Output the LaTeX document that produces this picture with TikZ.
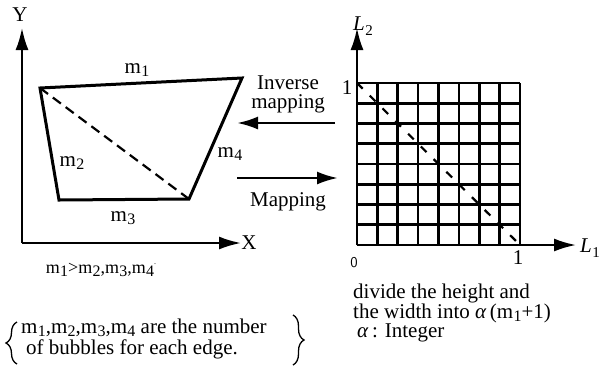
\documentclass[tikz,border=0pt]{standalone}
\usepackage{fontspec}
\setmainfont{Liberation Serif}
\usetikzlibrary{positioning,arrows.meta,decorations.pathreplacing}

\newcommand{\msb}[1]{m\kern0.3pt\raisebox{-0.35ex}[\height][0pt]{\fontsize{16}{16}\selectfont #1}}
\newcommand{\Lsb}[1]{\textit{L}\kern0.5pt\raisebox{-0.45ex}{\fontsize{15}{15}\selectfont #1}}

\begin{document}
\begin{tikzpicture}[
      x=1pt, y=-1pt,
      lbl/.style = {font=\fontsize{21}{19}\selectfont, inner sep=0pt},
      axis/.style = {line width=2.2pt, -{Latex[length=22pt,width=13pt]}},
      maparr/.style = {line width=2.6pt, -{Latex[length=21pt,width=13pt]}},
      edge/.style = {line width=3pt, line join=miter},
      gridl/.style = {line width=2.6pt},
      curly/.style = {line width=1.3pt, decorate, decoration={brace, amplitude=11pt}},
    ]
    \useasboundingbox (0,0) rectangle (602,368);

    % left: the quadrilateral in the X-Y plane
    \coordinate (o1) at (22,243);
    \coordinate (ytip) at (22,28);
    \coordinate (xtip) at (241,243);
    \draw[axis] (o1) -- (ytip);
    \draw[axis] (o1) -- (xtip);
    \node[lbl] (ylab) at (20,15) {Y};
    \node[lbl] (xlab) at (249,243) {X};

    \coordinate (q1) at (40,88);
    \coordinate (q2) at (242,78);
    \coordinate (q3) at (189,199);
    \coordinate (q4) at (59,200);
    \draw[edge] (q1) -- (q2) -- (q3) -- (q4) -- cycle;
    \draw[line width=2.2pt, dash pattern=on 10pt off 6pt] (q1) -- (q3);
    \node[lbl] (m1) at (137,68) {\msb{1}};
    \node[lbl] (m2) at (72,161) {\msb{2}};
    \node[lbl] (m3) at (123,216) {\msb{3}};
    \node[lbl] (m4) at (230,152) {\msb{4}};

    % mapping arrows
    \coordinate (inv-s) at (335,123);
    \coordinate (inv-e) at (237,123);
    \coordinate (map-s) at (237,178);
    \coordinate (map-e) at (338,178);
    \draw[maparr] (inv-s) -- (inv-e);
    \draw[maparr] (map-s) -- (map-e);
    \node[lbl, align=center] (invlab) at (288,94) {Inverse\\mapping};
    \node[lbl] (maplab) at (288,202) {Mapping};

    % right: the unit square in the L1-L2 plane
    \coordinate (o2) at (357,245);
    \coordinate (c2) at (520,83);
    \coordinate (l2tip) at (357,28);
    \coordinate (l1tip) at (576,245);
    \foreach \i in {0,...,8} {
      \draw[gridl] ({357+\i*163/8},245) -- ({357+\i*163/8},83);
      \draw[gridl] (357,{245-\i*162/8}) -- (520,{245-\i*162/8});
    }
    \draw[axis] (o2) -- (l2tip);
    \draw[axis] (o2) -- (l1tip);
    \draw[line width=2.2pt, dash pattern=on 8pt off 10pt] (357,83) -- (o2 -| c2);
    \node[lbl] (l2lab) at (363,26) {\Lsb{2}};
    \node[lbl] (l1lab) at (590,248) {\Lsb{1}};
    \node[lbl, font=\sffamily\fontsize{15}{15}\selectfont] (zero) at (354,263) {0};
    \node[lbl] (one-x) at (518,258) {1};
    \node[lbl] (one-y) at (347,88) {1};

    % notes
    \node[lbl, font=\fontsize{18}{18}\selectfont] (cond) at (101,270)
      {\msb{1}>\msb{2},\msb{3},\msb{4}\raisebox{1.2ex}{\fontsize{8}{8}\selectfont.}};
    \node[lbl, anchor=base west] (bubbles-a) at (21,333)
      {\msb{1},\msb{2},\msb{3},\msb{4} are the number};
    \node[lbl, anchor=base west] (bubbles-b) at (26,354)
      {of bubbles for each edge.};
    \coordinate (brl-b) at (17,364);
    \coordinate (brl-t) at (17,322);
    \coordinate (brr-t) at (293,315);
    \coordinate (brr-b) at (293,365);
    \draw[curly] (brl-b) -- (brl-t);
    \draw[curly] (brr-t) -- (brr-b);
    \node[lbl, anchor=west, align=left] (divide) at (353,303)
      {divide the height and\\the width into \textit{α}\,(\msb{1}+1)};
    \node[lbl, anchor=west] (alpha) at (357,333) {\textit{α}\,: Integer};
\end{tikzpicture}
\end{document}
